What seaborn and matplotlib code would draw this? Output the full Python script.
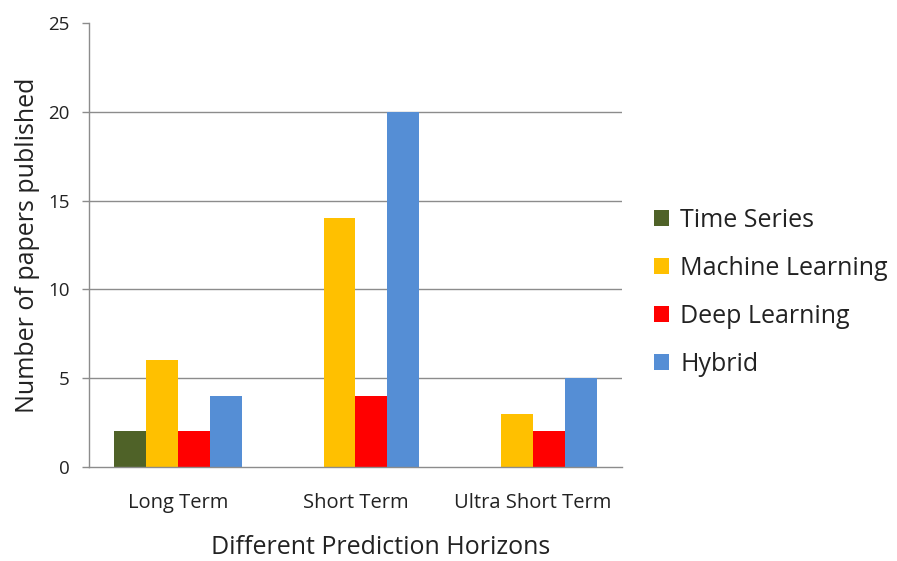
import matplotlib
matplotlib.use("Agg")
import matplotlib.pyplot as plt
import seaborn as sns
import pandas as pd
from matplotlib.patches import Patch

horizons = ["Long Term", "Short Term", "Ultra Short Term"]
methods = ["Time Series", "Machine Learning", "Deep Learning", "Hybrid"]
time_series = [2, 0, 0]
machine_learning = [6, 14, 3]
deep_learning = [2, 4, 2]
hybrid = [4, 20, 5]
colors = ["#4F6228", "#FFC000", "#FF0000", "#558ED5"]
yticks = [0, 5, 10, 15, 20, 25]

rows = []
for m, vals in zip(methods, [time_series, machine_learning, deep_learning, hybrid]):
    for h, v in zip(horizons, vals):
        rows.append({"Horizon": h, "Method": m, "Count": v})
df = pd.DataFrame(rows)

sns.set_style("white")
plt.rcParams["font.family"] = ["Open Sans", "DejaVu Sans"]

fig = plt.figure(figsize=(8.97, 5.61), dpi=100)
ax = fig.add_axes([0.0992, 0.1676, 0.5942, 0.7914])

sns.barplot(data=df, x="Horizon", y="Count", hue="Method", order=horizons,
            hue_order=methods, palette=colors, width=0.72, saturation=1,
            edgecolor="none", linewidth=0, legend=False, ax=ax, errorbar=None)

ax.set_xlim(-0.5, 2.5)
ax.set_ylim(0, 25)
ax.set_yticks(yticks)
ax.set_yticklabels([str(t) for t in yticks], fontsize=13.5, color="#222222")
ax.tick_params(axis="x", labelsize=14.5, colors="#222222", length=0, pad=19)
ax.tick_params(axis="y", length=5, width=1, color="#8c8c8c", direction="out", pad=9, left=True)
for y in yticks[1:-1]:
    ax.axhline(y, color="#8c8c8c", linewidth=1, zorder=0)
for s in ["top", "right"]:
    ax.spines[s].set_visible(False)
for s in ["left", "bottom"]:
    ax.spines[s].set_color("#8c8c8c")
    ax.spines[s].set_linewidth(1)
ax.set_axisbelow(True)

ax.set_xlabel("Different Prediction Horizons", fontsize=18, color="#222222")
ax.xaxis.set_label_coords(0.548, -0.153)
ax.set_ylabel("Number of papers published", fontsize=18, color="#222222", labelpad=6)

handles = [Patch(facecolor=c, edgecolor="none", label=m) for c, m in zip(colors, methods)]
fig.legend(handles=handles, loc="center left", bbox_to_anchor=(0.704, 0.479),
           frameon=False, fontsize=18, handlelength=0.6, handleheight=0.6,
           handletextpad=0.45, labelspacing=0.92, labelcolor="#222222")

fig.savefig("out.png", dpi=100)
